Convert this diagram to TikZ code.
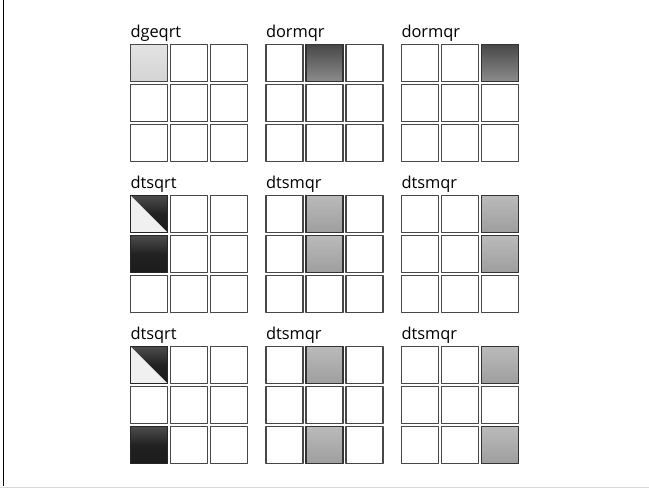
\documentclass[tikz,border=0pt]{standalone}
\usepackage{fontspec}
\setmainfont{Open Sans}

\begin{document}
\begin{tikzpicture}[x=0.03cm,y=-0.03cm,line join=round,
  every node/.style={inner sep=0pt,outer sep=0pt},
  cell/.style={draw=black!72,line width=0.9pt,fill=white,minimum size=1.11cm},
  qrlight/.style={cell,top color=black!11,bottom color=black!17},
  qrdark/.style={cell,draw=black!80,top color=black!72,bottom color=black!45},
  qrmid/.style={cell,draw=black!80,top color=black!27,bottom color=black!38},
  qrblack/.style={cell,draw=black!85,top color=black!70,bottom color=black!89,middle color=black!87},
  qrtri/.style={qrblack,path picture={
      \fill[black!6] (path picture bounding box.north west) -- (path picture bounding box.south west)
        -- (path picture bounding box.south east) -- cycle;}},
  tag/.style={font=\fontsize{14}{16}\selectfont,anchor=base west}]
  \useasboundingbox (0,0) rectangle (649,488);
  % window edges
  \draw[line width=1.1pt] (3.5,0) -- (3.5,486);
  \draw[black!15,line width=1pt] (0,487.5) -- (649,487.5);
  % nine 3x3 tile grids
  \foreach \lbl [count=\n from 0] in {dgeqrt,dormqr,dormqr,dtsqrt,dtsmqr,dtsmqr,dtsqrt,dtsmqr,dtsmqr}{
    \pgfmathtruncatemacro\r{int(\n/3)}
    \pgfmathtruncatemacro\g{mod(\n,3)}
    \foreach \i in {0,1,2}{
      \foreach \j in {0,1,2}{
        \node[cell] (c\n-\i\j) at ({149+135.5*\g+40*\j},{63+151*\r+40*\i}) {};
      }
    }
    \node[tag] (lbl\n) at ([yshift=5.8pt]c\n-00.north west) {\lbl};
  }
  % tiles touched by each kernel
  \foreach \n/\i/\j/\kind in {0/0/0/qrlight,1/0/1/qrdark,2/0/2/qrdark,
      3/0/0/qrtri,3/1/0/qrblack,4/0/1/qrmid,4/1/1/qrmid,5/0/2/qrmid,5/1/2/qrmid,
      6/0/0/qrtri,6/2/0/qrblack,7/0/1/qrmid,7/2/1/qrmid,8/0/2/qrmid,8/2/2/qrmid}
    \node[\kind] (k\n-\i\j) at (c\n-\i\j) {};
\end{tikzpicture}
\end{document}
